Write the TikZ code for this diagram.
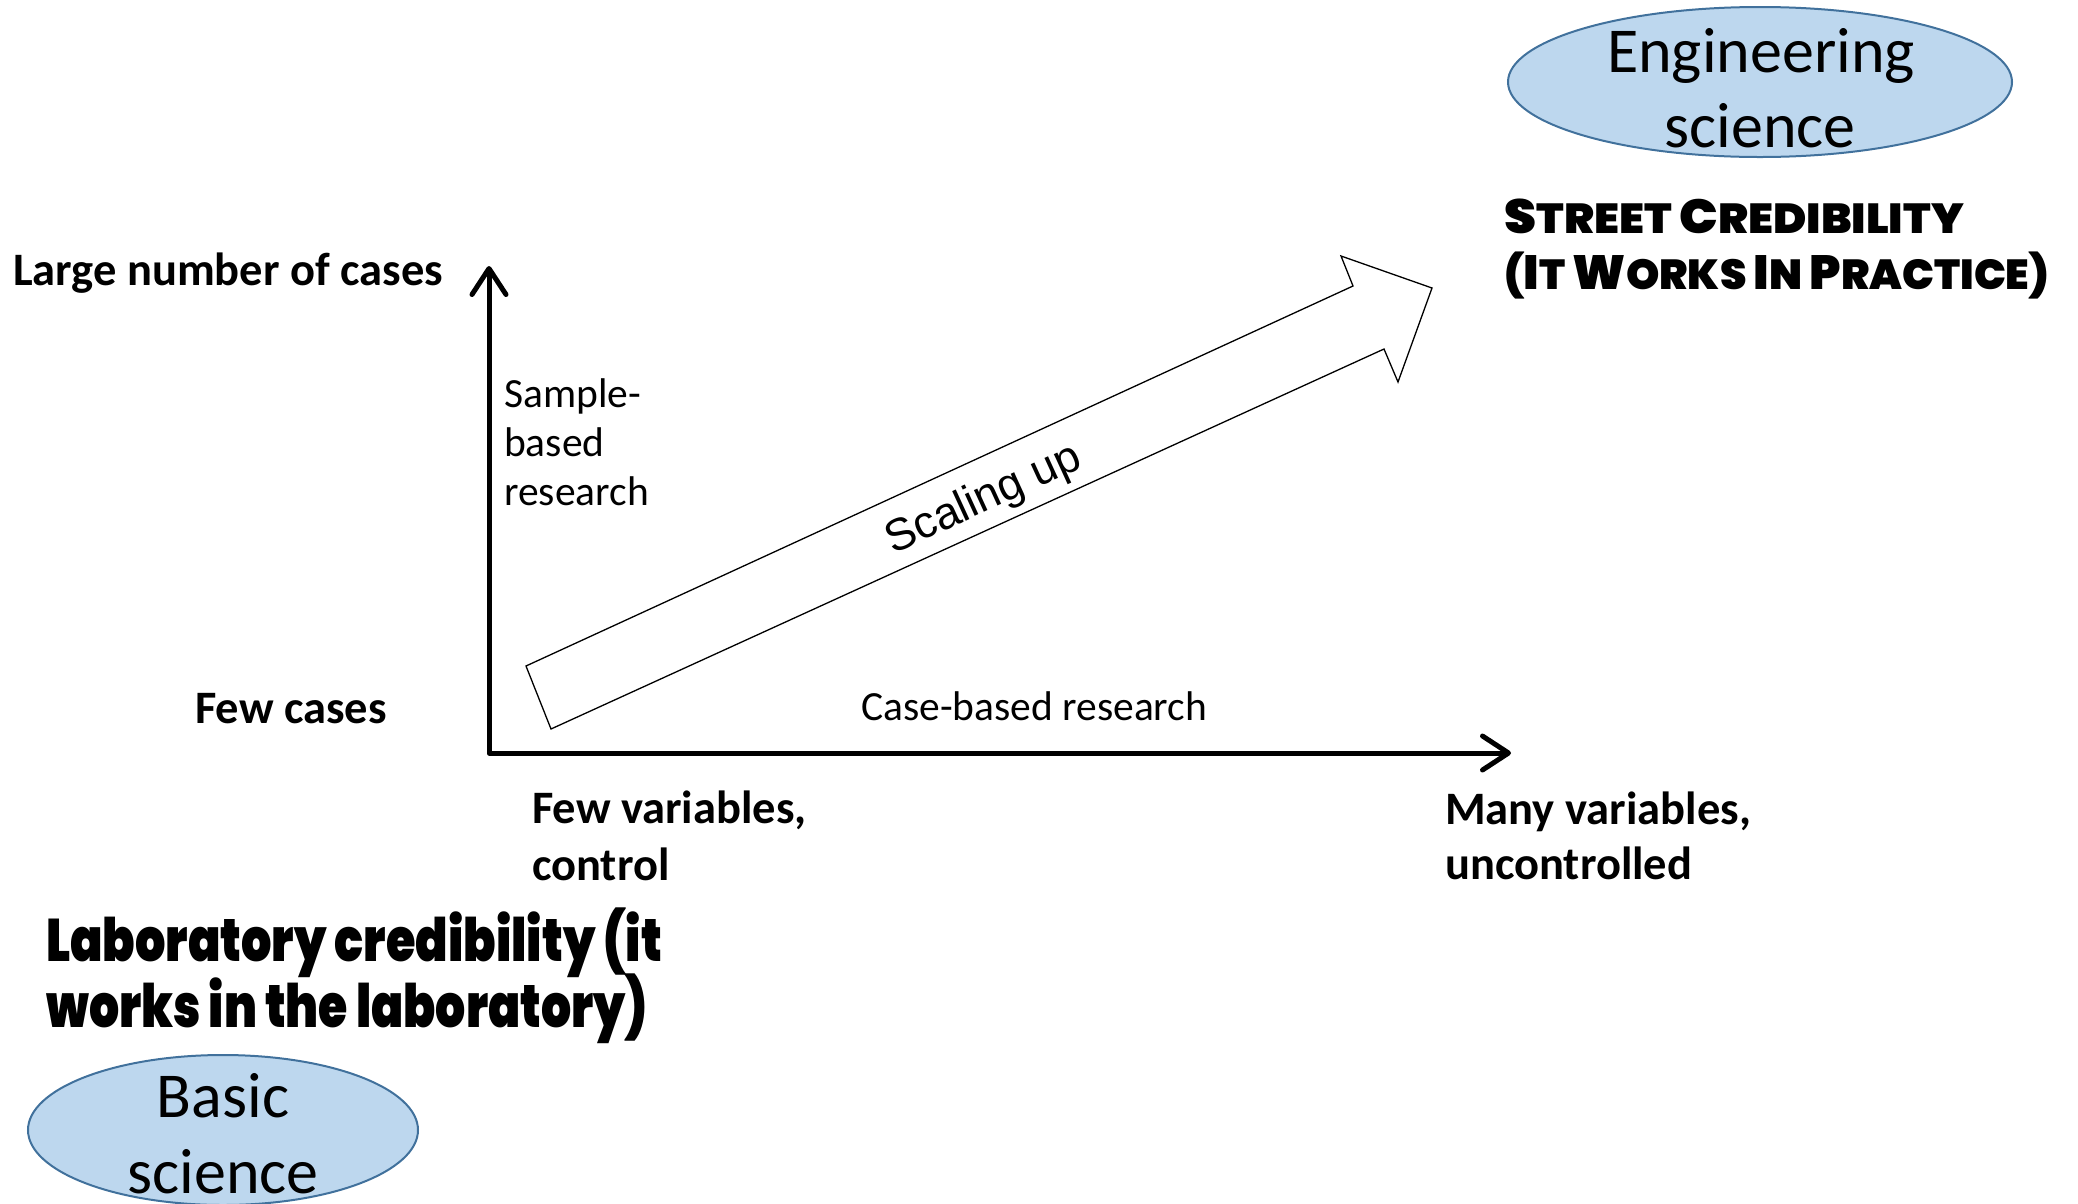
\documentclass[tikz,border=0pt]{standalone}
\usepackage{fontspec}
\setmainfont{Carlito}
\newfontfamily\arialfont{Liberation Sans}
\newfontfamily\heavyfont{Poppins Black}
\usetikzlibrary{shapes.geometric,arrows.meta}
\definecolor{ellfill}{HTML}{BDD7EE}
\definecolor{elldraw}{HTML}{41719C}
\newcommand\capbig[1]{{\fontsize{48pt}{48pt}\selectfont #1}}
\tikzset{
  ell/.style={ellipse, draw=elldraw, fill=ellfill, line width=2pt, inner sep=0pt},
  lbl/.style={inner sep=0pt, font=\fontsize{46.5pt}{55pt}\selectfont\bfseries},
  note/.style={inner sep=0pt, font=\fontsize{41.5pt}{50pt}\selectfont},
  big/.style={inner sep=0pt, font=\fontsize{64pt}{75pt}\selectfont},
  heavyst/.style={inner sep=0pt, font=\heavyfont\fontsize{42pt}{42pt}\selectfont},
  heavylab/.style={inner sep=0pt, font=\heavyfont\fontsize{60pt}{60pt}\selectfont},
  axis/.style={line width=5pt, line join=round,
    {Straight Barb[length=26pt,width=34pt,line cap=round,line join=round]}-{Straight Barb[length=26pt,width=34pt,line cap=round,line join=round]}},
  bigarrow/.style={draw=black, line width=1.3pt, fill=white, line join=miter}
}
\begin{document}
\begin{tikzpicture}[x=1pt,y=-1pt]
\useasboundingbox (0,0) rectangle (2078,1203);
% ellipses
\node[ell, minimum width=504pt, minimum height=150pt] (eng) at (1760,82) {};
\node[big, anchor=base] (engt1) at (1761,72) {Engineering};
\node[big, anchor=base] (engt2) at (1760,147) {science};
\node[ell, minimum width=390pt, minimum height=150pt] (basic) at (223,1130) {};
\node[big, anchor=base] (bast1) at (223,1117) {Basic};
\node[big, anchor=base] (bast2) at (223,1193) {science};
% axes
\coordinate (O) at (489,753);
\coordinate (ytop) at (489,266);
\coordinate (xend) at (1511,753);
\draw[axis] (ytop) -- (O) -- (xend);
% scaling-up arrow
\draw[bigarrow] (526,666) -- (1353,286) -- (1341,256) -- (1432,288) -- (1398,382) -- (1384,349) -- (551,729) -- cycle;
\node[inner sep=0pt, rotate=24.6, font=\arialfont\fontsize{45pt}{45pt}\selectfont] (scal) at (984,500) {Scaling up};
% axis labels
\node[lbl, anchor=base west] (large) at (13,285) {Large number of cases};
\node[lbl, anchor=base west] (few) at (195,723) {Few cases};
\node[note, anchor=base west] (samp1) at (504,407) {Sample-};
\node[note, anchor=base west] (samp2) at (504,456) {based};
\node[note, anchor=base west] (samp3) at (504,505) {research};
\node[note, anchor=base west] (caseb) at (861,720) {Case-based research};
\node[lbl, anchor=base west] (fewv1) at (532,823) {Few variables,};
\node[lbl, anchor=base west] (fewv2) at (532,880) {control};
\node[lbl, anchor=base west] (many1) at (1445,824) {Many variables,};
\node[lbl, anchor=base west] (many2) at (1445,879) {uncontrolled};
% credibility texts
\node[heavyst, anchor=base west] (street1) at (1504,233) {\scalebox{1.07}[1]{\capbig{S}TREET \capbig{C}REDIBILITY}};
\node[heavyst, anchor=base west] (street2) at (1504,289) {\scalebox{1.01}[1]{(\capbig{I}T \capbig{W}ORKS \capbig{I}N \capbig{P}RACTICE)}};
\node[heavylab, anchor=base west] (lab1) at (46,961) {\scalebox{0.797}[1]{Laboratory credibility (it}};
\node[heavylab, anchor=base west] (lab2) at (46,1027) {\scalebox{0.79}[1]{works in the laboratory)}};
\end{tikzpicture}
\end{document}
